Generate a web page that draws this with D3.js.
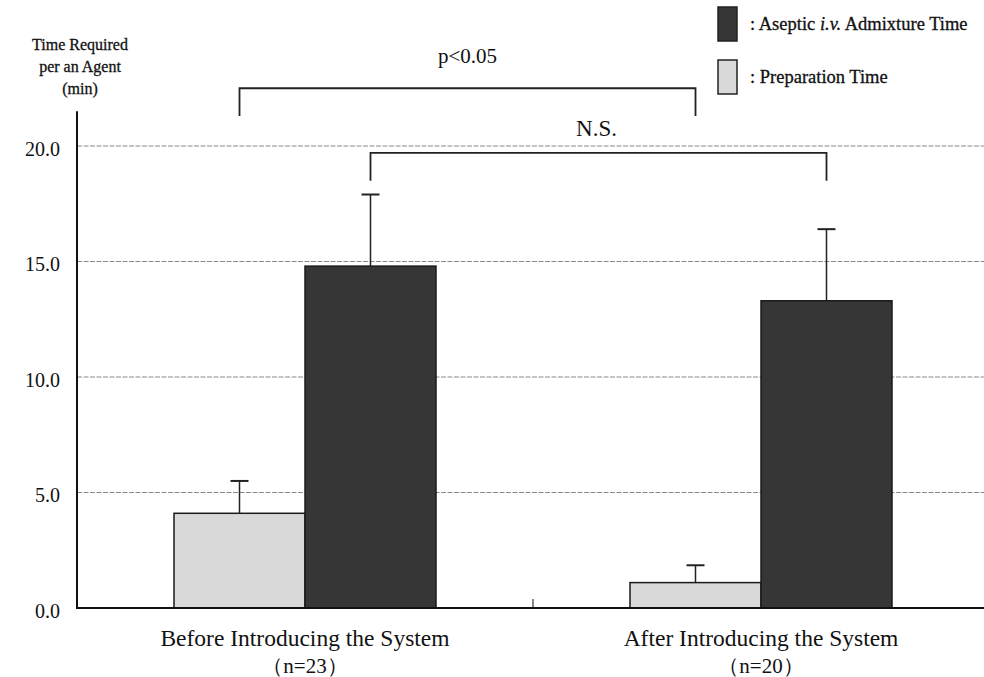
<!DOCTYPE html>
<meta charset="utf-8">
<script src="https://d3js.org/d3.v7.min.js"></script>
<style>
  body { margin: 0; background: #fff; }
  svg text { font-family: "Liberation Serif", "Times New Roman", Times, serif; fill: #111; }
</style>
<div id="chart"></div>
<script>

// data
var groups = ["Before Introducing the System", "After Introducing the System"];
var groupN = ["（n=23）", "（n=20）"];
var series = ["prep", "aseptic"];
var seriesLabels = ["Preparation Time", "Aseptic i.v. Admixture Time"];
var prepMean = [4.1, 1.1];
var prepSD = [1.4, 0.75];
var asepticMean = [14.8, 13.3];
var asepticSD = [3.1, 3.1];
var yTicks = [0, 5, 10, 15, 20];
var tests = ["p<0.05", "N.S."];

var width = 984, height = 677;
var serif = "Liberation Serif";

var svg = d3.select("#chart").append("svg")
    .attr("width", width)
    .attr("height", height)
    .attr("font-family", serif);

// scales
var y = d3.scaleLinear().domain([0, 20]).range([608, 146]);
var x0 = d3.scaleBand().domain(groups).range([77, 989]);
var bw = x0.bandwidth();
var x1 = d3.scaleBand().domain(series).range([bw / 2 - 131, bw / 2 + 131]);
var color = { prep: "#d9d9d9", aseptic: "#363636" };

var rows = [];
groups.forEach(function(g, i) {
  rows.push({ g: g, s: "prep", mean: prepMean[i], sd: prepSD[i] });
  rows.push({ g: g, s: "aseptic", mean: asepticMean[i], sd: asepticSD[i] });
});

// gridlines
svg.append("g")
  .selectAll("line")
  .data(yTicks.filter(function(d) { return d > 0; }))
  .enter().append("line")
    .attr("x1", 77).attr("x2", 984)
    .attr("y1", function(d) { return y(d); })
    .attr("y2", function(d) { return y(d); })
    .attr("stroke", "#888")
    .attr("stroke-width", 1)
    .attr("stroke-dasharray", "5,1.5");

// y axis labels (no tick marks)
var yAxis = svg.append("g")
  .attr("transform", "translate(77,0)")
  .call(d3.axisLeft(y).tickValues(yTicks).tickFormat(d3.format(".1f")).tickSize(0).tickPadding(17));
yAxis.attr("font-family", serif).attr("font-size", 20);
yAxis.select(".domain").remove();
yAxis.selectAll("text").attr("fill", "#111").attr("dy", "0.45em");

// bars
svg.append("g")
  .selectAll("rect")
  .data(rows)
  .enter().append("rect")
    .attr("x", function(d) { return x0(d.g) + x1(d.s); })
    .attr("y", function(d) { return y(d.mean); })
    .attr("width", x1.bandwidth())
    .attr("height", function(d) { return y(0) - y(d.mean); })
    .attr("fill", function(d) { return color[d.s]; })
    .attr("stroke", "#1a1a1a")
    .attr("stroke-width", 1.5);

// error bars
var err = svg.append("g").selectAll("g")
  .data(rows)
  .enter().append("g")
    .attr("transform", function(d) { return "translate(" + (x0(d.g) + x1(d.s) + x1.bandwidth() / 2) + ",0)"; });
err.append("line")
  .attr("x1", 0).attr("x2", 0)
  .attr("y1", function(d) { return y(d.mean); })
  .attr("y2", function(d) { return y(d.mean + d.sd); })
  .attr("stroke", "#222").attr("stroke-width", 1.5);
err.append("line")
  .attr("x1", -9).attr("x2", 9)
  .attr("y1", function(d) { return y(d.mean + d.sd); })
  .attr("y2", function(d) { return y(d.mean + d.sd); })
  .attr("stroke", "#222").attr("stroke-width", 2);

// axes lines
svg.append("line")
  .attr("x1", 77).attr("x2", 77)
  .attr("y1", y(21.5)).attr("y2", y(0))
  .attr("stroke", "#111").attr("stroke-width", 2);
svg.append("line")
  .attr("x1", 76).attr("x2", 984)
  .attr("y1", y(0)).attr("y2", y(0))
  .attr("stroke", "#111").attr("stroke-width", 2);
// separator tick between groups
svg.append("line")
  .attr("x1", x0(groups[1])).attr("x2", x0(groups[1]))
  .attr("y1", y(0)).attr("y2", y(0) - 9)
  .attr("stroke", "#111").attr("stroke-width", 1);

// category labels
var cat = svg.append("g").selectAll("g")
  .data(groups)
  .enter().append("g")
    .attr("transform", function(d) { return "translate(" + (x0(d) + bw / 2) + ",0)"; });
cat.append("text")
  .attr("y", 646)
  .attr("text-anchor", "middle")
  .attr("font-size", 23.5)
  .text(function(d) { return d; });
cat.append("text")
  .attr("y", 673)
  .attr("text-anchor", "middle")
  .attr("font-size", 21)
  .text(function(d, i) { return groupN[i]; });

// significance brackets
var brackets = [
  { s: "prep", text: tests[0], top: 22.5, leg: 21.3, ty: 63, fs: 21, dx: 0 },
  { s: "aseptic", text: tests[1], top: 19.7, leg: 18.5, ty: 136, fs: 23, dx: -2 }
];
function bx(s, gi) { return x0(groups[gi]) + x1(s) + x1.bandwidth() / 2; }
var br = svg.append("g").selectAll("g")
  .data(brackets)
  .enter().append("g");
br.append("path")
  .attr("d", function(d) {
    return "M" + bx(d.s, 0) + "," + y(d.leg) + "V" + y(d.top) + "H" + bx(d.s, 1) + "V" + y(d.leg);
  })
  .attr("fill", "none")
  .attr("stroke", "#222")
  .attr("stroke-width", 1.8);
br.append("text")
  .attr("x", function(d) { return (bx(d.s, 0) + bx(d.s, 1)) / 2 + d.dx; })
  .attr("y", function(d) { return d.ty; })
  .attr("text-anchor", "middle")
  .attr("font-size", function(d) { return d.fs; })
  .text(function(d) { return d.text; });

// y title
var title = svg.append("text")
  .attr("text-anchor", "middle")
  .attr("font-size", 16)
  .attr("stroke", "#111")
  .attr("stroke-width", 0.3);
["Time Required", "per an Agent", "(min)"].forEach(function(t, i) {
  title.append("tspan").attr("x", 80).attr("y", 50 + i * 22).text(t);
});

// legend
var legendOrder = ["aseptic", "prep"];
var legend = svg.append("g").selectAll("g")
  .data(legendOrder)
  .enter().append("g")
    .attr("transform", function(d, i) { return "translate(718," + (7 + i * 53) + ")"; });
legend.append("rect")
  .attr("width", 19).attr("height", 34)
  .attr("fill", function(d) { return color[d]; })
  .attr("stroke", "#222").attr("stroke-width", 1.5);
var lt = legend.append("text")
  .attr("x", 32).attr("y", 23)
  .attr("font-size", 18.5)
  .attr("stroke", "#111")
  .attr("stroke-width", 0.3);
lt.each(function(d) {
  var t = d3.select(this);
  if (d === "aseptic") {
    t.append("tspan").text(": Aseptic ");
    t.append("tspan").attr("font-style", "italic").text("i.v.");
    t.append("tspan").text(" Admixture Time");
  } else {
    t.text(": " + seriesLabels[series.indexOf(d)]);
  }
});

</script>
